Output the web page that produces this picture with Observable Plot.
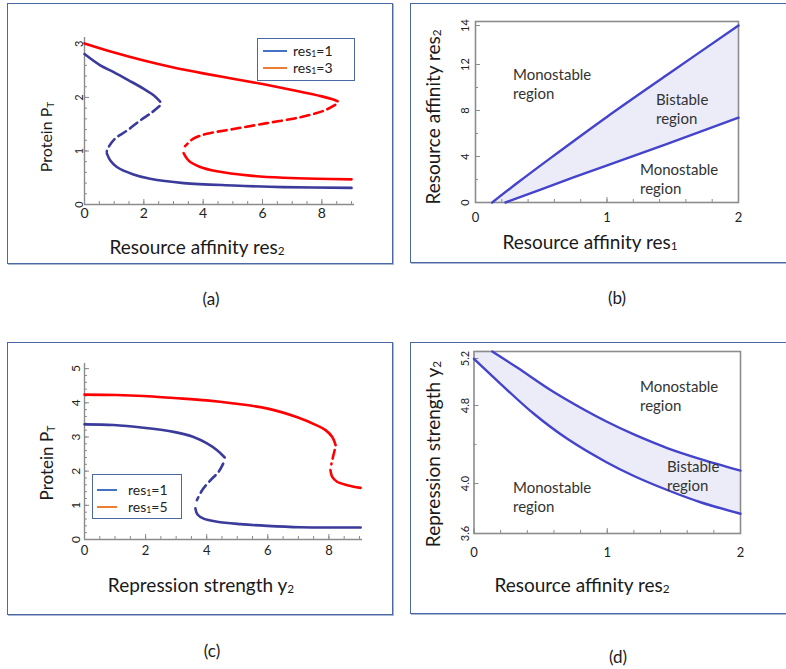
<!DOCTYPE html>
<html>
<head>
<meta charset="utf-8">
<script src="https://cdn.jsdelivr.net/npm/d3@7"></script>
<script src="https://cdn.jsdelivr.net/npm/@observablehq/plot@0.6"></script>
<style>
html,body{margin:0;padding:0;background:#fff;}
#root{position:relative;width:786px;height:669px;overflow:hidden;font-family:Lato,"Open Sans",sans-serif;color:#1a1a1a;}
.box{position:absolute;box-sizing:border-box;border:1.5px solid #4a68a6;box-shadow:1px 1px 0 #a9b7d5;}
.abs{position:absolute;white-space:nowrap;line-height:1;}
.ctr{transform:translate(-50%,-50%);}
.rot{transform:translate(-50%,-50%) rotate(-90deg);}
.sub{font-size:62%;vertical-align:-0.15em;}
.region{position:absolute;font-size:15px;line-height:19px;color:#333;white-space:pre;}
.legend{position:absolute;box-sizing:border-box;border:1px solid #4a68a6;background:#fff;font-size:14px;}
.legend .ln{position:absolute;height:2px;}
.legend .tx{position:absolute;line-height:1;transform:translateY(-50%);white-space:nowrap;color:#222;}
svg.plot{position:absolute;overflow:visible;}
</style>
</head>
<body>
<div id="root"></div>
<script>
// ---------------- data ----------------
// (a) steady states of protein P_T vs resource affinity res2
const aBlueUpper = [[0,2.81],[0.53,2.6],[1.0,2.47],[1.49,2.32],[2.0,2.16],[2.33,2.04],[2.55,1.92]];
const aBlueMid   = [[2.53,1.84],[2.27,1.72],[1.88,1.57],[1.43,1.38],[1.03,1.23],[0.81,1.07],[0.75,0.99]];
const aBlueLower = [[0.75,0.96],[0.87,0.82],[1.09,0.70],[1.65,0.56],[2.21,0.48],[3.34,0.40],[5.02,0.355],[6.71,0.325],[9.0,0.31]];
const aRedUpper  = [[0,3.01],[1,2.84],[2,2.69],[3,2.56],[4,2.45],[5,2.35],[6,2.25],[7,2.14],[8,2.02],[8.39,1.96],[8.53,1.93]];
const aRedMid    = [[8.45,1.86],[8.06,1.75],[7.27,1.63],[6.15,1.52],[5.02,1.41],[4.12,1.32],[3.67,1.23],[3.39,1.09]];
const aRedLower  = [[3.34,0.96],[3.51,0.82],[3.9,0.70],[4.46,0.62],[5.58,0.54],[6.71,0.5],[7.83,0.48],[9.0,0.47]];
const aXTicks = [0,2,4,6,8];
const aYTicks = [0,1,2,3];
const aLegend = ["1","3"];

// (b) bistable region in (res1, res2)
const bUpper = [[0.127,0],[0.317,1.69],[0.57,3.86],[0.996,7.42],[1.458,11.11],[2.0,14]];
const bLower = [[0.228,0],[0.5,1.15],[0.75,2.2],[0.996,3.2],[1.458,5.1],[2.0,7.37]];
const bXTicks = [0,1,2];
const bYTicks = [0,4,8,12,14];

// (c) steady states of protein P_T vs repression strength y2
const cBlueUpper = [[0,3.37],[0.95,3.35],[1.93,3.27],[2.92,3.15],[3.57,3.0],[4.01,2.81],[4.34,2.61],[4.59,2.40]];
const cBlueMid   = [[4.54,2.22],[4.39,1.98],[4.12,1.73],[3.85,1.44],[3.68,1.15]];
const cBlueLower = [[3.63,0.91],[3.70,0.73],[3.90,0.61],[4.34,0.52],[5.1,0.45],[5.98,0.40],[7.07,0.36],[8.16,0.35],[9.04,0.35]];
const cRedUpper  = [[0,4.24],[1.06,4.23],[1.93,4.2],[2.92,4.14],[4.0,4.07],[4.89,3.98],[6.0,3.83],[6.99,3.57],[7.6,3.34],[7.89,3.2],[8.11,3.0],[8.22,2.76]];
const cRedMid    = [[8.19,2.62],[8.13,2.4],[8.08,2.2]];
const cRedLower  = [[8.05,2.03],[8.11,1.83],[8.27,1.69],[8.6,1.59],[9.04,1.51]];
const cXTicks = [0,2,4,6,8];
const cYTicks = [0,1,2,3,4,5];
const cLegend = ["1","5"];

// (d) bistable region in (res2, y2)
const dUpper = [[0.137,5.26],[0.324,5.123],[0.574,4.932],[0.824,4.759],[0.994,4.636],[1.2,4.503],[1.45,4.364],[1.7,4.251],[2.0,4.133]];
const dLower = [[0,5.197],[0.199,4.985],[0.449,4.715],[0.70,4.458],[0.994,4.218],[1.2,4.077],[1.45,3.948],[1.7,3.85],[2.0,3.758]];
const dXTicks = [0,1,2];
const dYTicks = [3.6,4.0,4.8,5.2];

// ---------------- style ----------------
const FONT = "Lato, 'Open Sans', sans-serif";
const AXIS = "#8c8c8c";
const CURVE_BLUE = "#3b3b9c", CURVE_RED = "#ff0000";
const REGION_BLUE = "#4343cc", BAND = "#ececf9";
const LEG_BLUE = "#4472c4", LEG_ORANGE = "#ed7d31";
const root = document.getElementById("root");

// the printed y axes of (b) and (d) are not evenly spaced: warp values onto the drawn axis
const bWarp = d3.scaleLinear().domain([0, 12, 14, 14.25]).range([0, 138, 177, 181]);
const dWarp = d3.scaleLinear().domain([3.6, 4.0, 4.8, 5.2, 5.26]).range([0, 50, 128, 175, 182]);

function el(html, cls, css) {
  const d = document.createElement("div");
  d.className = cls; d.innerHTML = html;
  Object.assign(d.style, css);
  root.appendChild(d);
  return d;
}
function placePlot(svg, left, top) {
  svg.classList.add("plot");
  svg.style.left = left + "px"; svg.style.top = top + "px";
  root.appendChild(svg);
}
function tickMarks({xMajor, xMinor, yMajor, yMinor, xFont, yFont, xPad, yPad, yFmt = d => String(d), warp = null}) {
  const yM = warp ? yMajor.map(warp) : yMajor;
  const ym = warp ? yMinor.map(warp) : yMinor;
  const fmt = warp ? v => yFmt(+warp.invert(v).toFixed(2)) : yFmt;
  return [
    Plot.axisX({ticks: xMinor, tickSize: 3, dy: -3, fill: "none", stroke: AXIS, label: null}),
    Plot.axisX({ticks: xMajor, tickSize: 5, dy: -5, fill: "none", stroke: AXIS, label: null}),
    Plot.axisX({ticks: xMajor, tickSize: 0, tickPadding: xPad, fontSize: xFont, fill: "#222", label: null, tickFormat: d => String(d)}),
    Plot.axisY({ticks: ym, tickSize: 3, dx: 3, fill: "none", stroke: AXIS, label: null}),
    Plot.axisY({ticks: yM, tickSize: 5, dx: 5, fill: "none", stroke: AXIS, label: null}),
    Plot.axisY({ticks: yM, tickSize: 0, tickPadding: yPad, tickRotate: -90, fontSize: yFont, fill: "#222", label: null, tickFormat: fmt})
  ];
}
const solid = (data, stroke) => Plot.line(data, {stroke, strokeWidth: 2.6, curve: "catmull-rom"});
const dashed = (data, stroke) => Plot.line(data, {stroke, strokeWidth: 2.6, strokeDasharray: "9,5", curve: "catmull-rom"});
const bandOf = (up, lo) => up.map((p, i) => ({x1: lo[i][0], y1: lo[i][1], x2: p[0], y2: p[1]}));

// ---------------- boxes ----------------
el("", "box", {left: "7px", top: "3px", width: "386px", height: "261px"});
el("", "box", {left: "410px", top: "3px", width: "400px", height: "260px"});
el("", "box", {left: "7px", top: "342px", width: "386px", height: "273px"});
el("", "box", {left: "410px", top: "342px", width: "400px", height: "272px"});

// ---------------- (a) ----------------
placePlot(Plot.plot({
  width: 386, height: 261, marginLeft: 77, marginRight: 39, marginTop: 34, marginBottom: 60,
  x: {domain: [0, 9.1]}, y: {domain: [0, 3.12]},
  style: {fontFamily: FONT, background: "transparent"},
  marks: [
    Plot.ruleY([0], {stroke: AXIS, strokeWidth: 1.4}),
    Plot.ruleX([0], {stroke: AXIS, strokeWidth: 1.4}),
    ...tickMarks({xMajor: aXTicks, xMinor: d3.range(0, 9.01, 0.5), yMajor: aYTicks, yMinor: d3.range(0, 3.11, 0.2), xFont: 14, yFont: 11, xPad: 4, yPad: 2}),
    solid(aBlueUpper, CURVE_BLUE), dashed(aBlueMid, CURVE_BLUE), solid(aBlueLower, CURVE_BLUE),
    solid(aRedUpper, CURVE_RED), dashed(aRedMid, CURVE_RED), solid(aRedLower, CURVE_RED)
  ]
}), 7, 3);

// ---------------- (b) ----------------
placePlot(Plot.plot({
  width: 376, height: 260, marginLeft: 65, marginRight: 48, marginTop: 18, marginBottom: 61,
  x: {domain: [0, 2]},
  y: {domain: [0, 181], transform: bWarp},
  style: {fontFamily: FONT, background: "transparent"},
  marks: [
    Plot.area(bandOf(bUpper, bLower), {x1: "x1", y1: "y1", x2: "x2", y2: "y2", fill: BAND}),
    Plot.frame({stroke: AXIS, strokeWidth: 1.6}),
    ...tickMarks({xMajor: bXTicks, xMinor: d3.range(0, 2.01, 0.2), yMajor: bYTicks, yMinor: [2,6,10], xFont: 13, yFont: 11, xPad: 10, yPad: 7, warp: bWarp}),
    Plot.line(bUpper, {stroke: REGION_BLUE, strokeWidth: 2.4, curve: "catmull-rom"}),
    Plot.line(bLower, {stroke: REGION_BLUE, strokeWidth: 2.4})
  ]
}), 410, 3);

// ---------------- (c) ----------------
placePlot(Plot.plot({
  width: 386, height: 272, marginLeft: 77, marginRight: 31, marginTop: 21, marginBottom: 75,
  x: {domain: [0, 9.1]}, y: {domain: [0, 5.15]},
  style: {fontFamily: FONT, background: "transparent"},
  marks: [
    Plot.ruleY([0], {stroke: AXIS, strokeWidth: 1.4}),
    Plot.ruleX([0], {stroke: AXIS, strokeWidth: 1.4}),
    ...tickMarks({xMajor: cXTicks, xMinor: d3.range(0, 9.01, 0.5), yMajor: cYTicks, yMinor: d3.range(0, 5.01, 0.2), xFont: 13, yFont: 12, xPad: 6, yPad: 5}),
    solid(cBlueUpper, CURVE_BLUE), dashed(cBlueMid, CURVE_BLUE), solid(cBlueLower, CURVE_BLUE),
    solid(cRedUpper, CURVE_RED), dashed(cRedMid, CURVE_RED), solid(cRedLower, CURVE_RED)
  ]
}), 7, 342);

// ---------------- (d) ----------------
const dBandUp = [[0, 5.26], ...dUpper];
const dBandLo = [dLower[0], ...dLower];
placePlot(Plot.plot({
  width: 376, height: 272, marginLeft: 63.5, marginRight: 46, marginTop: 9, marginBottom: 81,
  x: {domain: [0, 2]},
  y: {domain: [0, 182], transform: dWarp},
  style: {fontFamily: FONT, background: "transparent"},
  marks: [
    Plot.area(bandOf(dBandUp, dBandLo), {x1: "x1", y1: "y1", x2: "x2", y2: "y2", fill: BAND, curve: "catmull-rom"}),
    Plot.frame({stroke: AXIS, strokeWidth: 1.6}),
    ...tickMarks({xMajor: dXTicks, xMinor: d3.range(0, 2.01, 0.2), yMajor: dYTicks, yMinor: [4.4], xFont: 13, yFont: 11, xPad: 14, yPad: 5, yFmt: d3.format(".1f"), warp: dWarp}),
    Plot.line(dUpper, {stroke: REGION_BLUE, strokeWidth: 2.4, curve: "catmull-rom"}),
    Plot.line(dLower, {stroke: REGION_BLUE, strokeWidth: 2.4, curve: "catmull-rom"})
  ]
}), 410, 342);

// ---------------- titles ----------------
const T = 19;
el('Resource affinity res<span class="sub">2</span>', "abs ctr", {left: "197px", top: "247px", fontSize: T + "px"});
el('Protein P<span class="sub">T</span>', "abs rot", {left: "47px", top: "137px", fontSize: "16px"});
el('Resource affinity res<span class="sub">1</span>', "abs ctr", {left: "590px", top: "242px", fontSize: T + "px"});
el('Resource affinity res<span class="sub">2</span>', "abs rot", {left: "433px", top: "117px", fontSize: T + "px"});
el('Repression strength y<span class="sub">2</span>', "abs ctr", {left: "201px", top: "585px", fontSize: T + "px"});
el('Protein P<span class="sub">T</span>', "abs rot", {left: "47px", top: "463px", fontSize: "17px"});
el('Resource affinity res<span class="sub">2</span>', "abs ctr", {left: "582px", top: "585px", fontSize: T + "px"});
el('Repression strength y<span class="sub">2</span>', "abs rot", {left: "433px", top: "454px", fontSize: T + "px"});

// panel letters
el("(a)", "abs ctr", {left: "211px", top: "298px", fontSize: "17px"});
el("(b)", "abs ctr", {left: "617px", top: "297px", fontSize: "17px"});
el("(c)", "abs ctr", {left: "212px", top: "650px", fontSize: "17px"});
el("(d)", "abs ctr", {left: "618px", top: "656px", fontSize: "17px"});

// region labels
el("Monostable\nregion", "region", {left: "513px", top: "65px"});
el("Bistable\nregion", "region", {left: "656px", top: "90px"});
el("Monostable\nregion", "region", {left: "640px", top: "160px"});
el("Monostable\nregion", "region", {left: "640px", top: "377px"});
el("Bistable\nregion", "region", {left: "667px", top: "457px"});
el("Monostable\nregion", "region", {left: "513px", top: "478px"});

// legends
function legend(left, top, w, h, vals, lineLeft, lineW, ys, textLeft) {
  const box = el("", "legend", {left: left + "px", top: top + "px", width: w + "px", height: h + "px"});
  [LEG_BLUE, LEG_ORANGE].forEach((c, i) => {
    const ln = document.createElement("div");
    ln.className = "ln";
    Object.assign(ln.style, {left: lineLeft + "px", width: lineW + "px", top: (ys[i] - 1) + "px", background: c});
    box.appendChild(ln);
    const tx = document.createElement("div");
    tx.className = "tx";
    tx.innerHTML = 'res<span class="sub">1</span>=' + vals[i];
    Object.assign(tx.style, {left: textLeft + "px", top: ys[i] + "px"});
    box.appendChild(tx);
  });
}
legend(257, 38, 98, 43, aLegend, 5, 24, [12, 28.5], 35);
legend(92, 474, 90, 45, cLegend, 4, 20, [14.5, 32], 35);
</script>
</body>
</html>
